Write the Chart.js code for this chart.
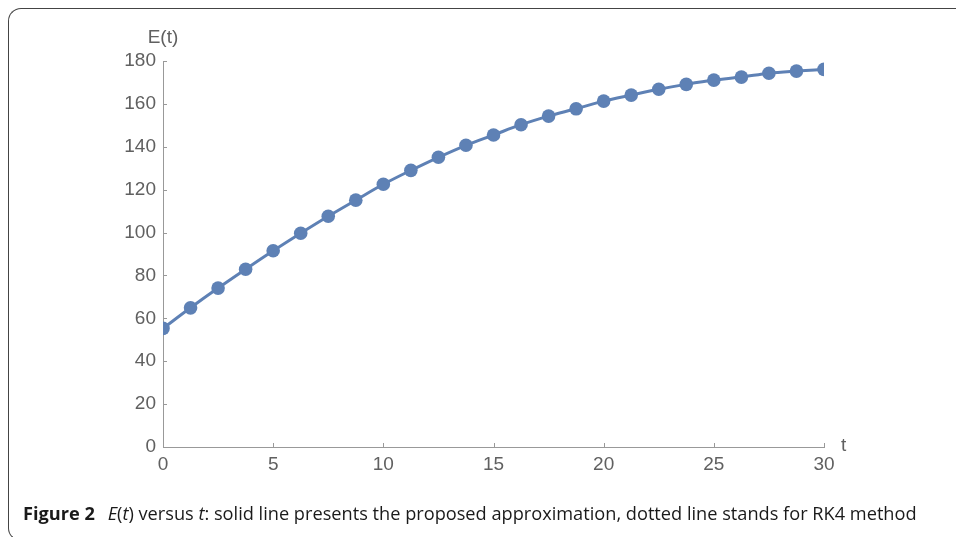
<!DOCTYPE html>
<html lang="en">
<head>
    <meta charset="UTF-8">
    <script src="https://cdn.jsdelivr.net/npm/chart.js@4"></script>
    <title>Figure 2</title>
    <style>
        body { margin: 0; width: 956px; height: 537px; overflow: hidden; background: #fff; position: relative; }
        #frame { position: absolute; left: 8px; top: 8px; width: 980px; height: 531px; border-left: 1.5px solid #444; border-top: 1.5px solid #444; border-bottom: 1.5px solid #444; border-radius: 13px 0 0 13px; }
        #wrap { position: absolute; left: 0; top: 0; width: 956px; height: 537px; }
        #caption { position: absolute; left: 23px; top: 501px; font-family: "Open Sans", sans-serif; font-size: 18.2px; color: #1a1a1a; white-space: nowrap; }
        #caption b { font-weight: 700; margin-right: 8px; }
    </style>
</head>
<body>
<div id="frame"></div>
<div id="wrap"><canvas id="container" width="956" height="537"></canvas></div>
<div id="caption"><b>Figure 2</b> <i>E</i>(<i>t</i>) versus <i>t</i>: solid line presents the proposed approximation, dotted line stands for RK4 method</div>

<script>
    const tValues = [0, 1.25, 2.5, 3.75, 5, 6.25, 7.5, 8.75, 10, 11.25, 12.5, 13.75, 15,
        16.25, 17.5, 18.75, 20, 21.25, 22.5, 23.75, 25, 26.25, 27.5, 28.75, 30];
    const eValues = [55.3, 64.9, 74.1, 82.9, 91.5, 99.7, 107.6, 115.1, 122.5, 129.0, 135.1, 140.7, 145.5,
        150.3, 154.3, 157.7, 161.3, 164.1, 166.8, 169.1, 171.1, 172.5, 174.3, 175.3, 176.1];
    const xTicks = [0, 5, 10, 15, 20, 25, 30];
    const yTicks = [0, 20, 40, 60, 80, 100, 120, 140, 160, 180];

    const lineColor = '#5e81b5';
    const axisColor = '#999999';
    const labelColor = '#606060';
    const tickFont = {family: "'Liberation Sans', Arial, sans-serif", size: 19};

    // Mathematica style: ticks point into the plot, axis labels at the ends
    const axisExtras = {
        id: 'axisExtras',
        afterDraw(chart) {
            const c = chart.ctx;
            const xs = chart.scales.x, ys = chart.scales.y;
            const x0 = xs.getPixelForValue(0), y0 = ys.getPixelForValue(0);
            c.save();
            c.strokeStyle = axisColor;
            c.lineWidth = 1;
            c.beginPath();
            for (const v of yTicks) {
                const py = Math.round(ys.getPixelForValue(v)) + 0.5;
                c.moveTo(x0, py);
                c.lineTo(x0 + 4, py);
            }
            for (const v of xTicks) {
                const px = Math.round(xs.getPixelForValue(v)) + 0.5;
                c.moveTo(px, y0);
                c.lineTo(px, y0 - 4);
            }
            c.stroke();
            c.fillStyle = labelColor;
            c.font = "19px 'Liberation Sans', Arial, sans-serif";
            c.textBaseline = 'middle';
            c.textAlign = 'center';
            c.fillText('E(t)', x0, ys.getPixelForValue(180) - 23);
            c.textAlign = 'left';
            c.fillText('t', xs.getPixelForValue(30) + 17, y0 - 1);
            c.restore();
        }
    };

    const ctx = document.getElementById('container').getContext('2d');
    const myChart = new Chart(ctx, {
        type: 'line',
        data: {
            datasets: [{
                data: tValues.map((t, i) => ({x: t, y: eValues[i]})),
                borderColor: lineColor,
                backgroundColor: lineColor,
                borderWidth: 3,
                pointRadius: 6.8,
                pointBorderWidth: 0,
                pointBackgroundColor: lineColor,
                cubicInterpolationMode: 'monotone',
                clip: 0
            }]
        },
        options: {
            responsive: false,
            animation: false,
            events: [],
            layout: {padding: {left: 0, right: 132, top: 61, bottom: 0}},
            plugins: {legend: {display: false}, tooltip: {enabled: false}},
            scales: {
                x: {
                    type: 'linear',
                    min: 0, max: 30,
                    afterFit: s => { s.height = 90; },
                    afterBuildTicks: s => { s.ticks = xTicks.map(v => ({value: v})); },
                    grid: {display: false, drawTicks: false},
                    border: {display: true, color: axisColor, width: 1},
                    ticks: {color: labelColor, font: tickFont, padding: 6, maxRotation: 0}
                },
                y: {
                    min: 0, max: 180,
                    afterFit: s => { s.width = 163; },
                    afterBuildTicks: s => { s.ticks = yTicks.map(v => ({value: v})); },
                    grid: {display: false, drawTicks: false},
                    border: {display: true, color: axisColor, width: 1},
                    ticks: {color: labelColor, font: tickFont, padding: 7}
                }
            }
        },
        plugins: [axisExtras]
    });
</script>
</body>
</html>
